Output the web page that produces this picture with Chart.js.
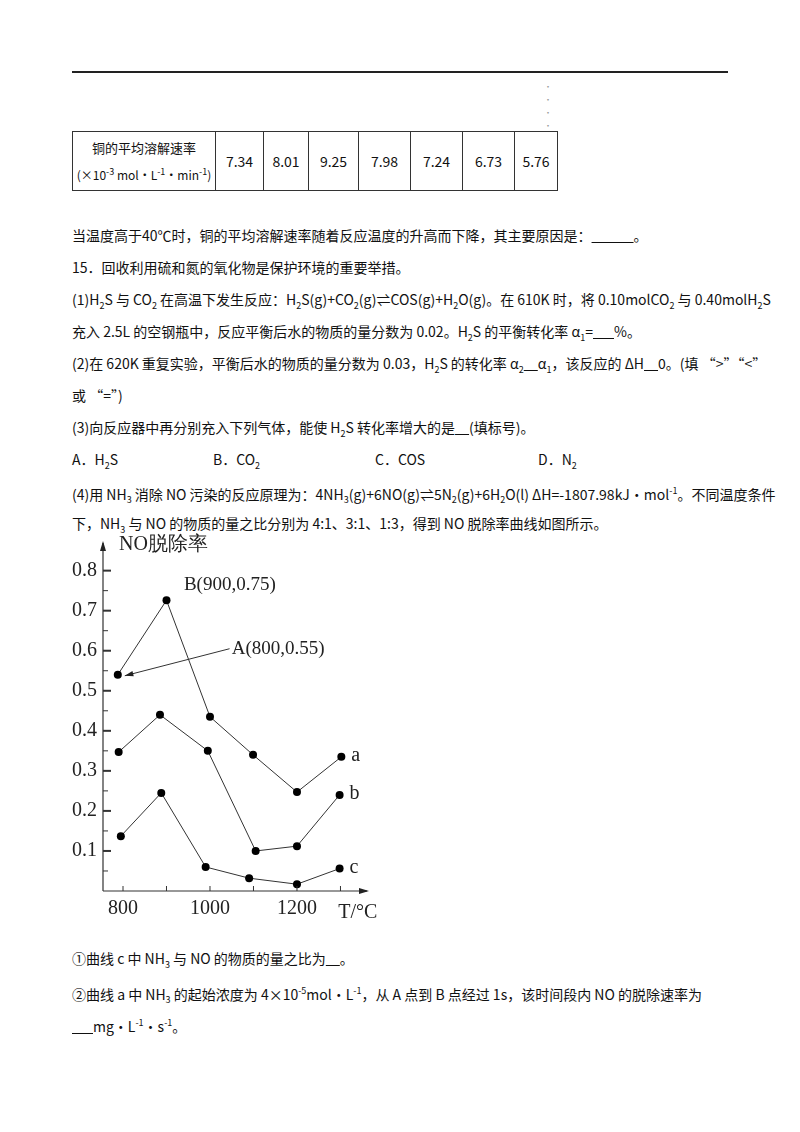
<!DOCTYPE html>
<html><head><meta charset="utf-8">
<script src="https://cdn.jsdelivr.net/npm/chart.js@4/dist/chart.umd.min.js"></script>
<style>
body{margin:0;background:#fff;width:800px;height:1132px;position:relative;font-family:"Noto Sans CJK SC","Noto Sans",sans-serif;color:#111;font-size:14px}
.l{position:absolute;left:72px;white-space:nowrap;line-height:20px}
.j{width:656px;text-align:justify;text-align-last:justify}
sub,sup{font-size:9px}
table{position:absolute;left:72px;top:131px;border-collapse:collapse;font-size:14px}
td{border:1.5px solid #333;height:58px;text-align:center;padding:0}
#wrap{position:absolute;left:60px;top:525px;width:330px;height:400px}
</style></head><body>
<div style="position:absolute;left:72px;top:71px;width:656px;height:2px;background:#222"></div>
<div style="position:absolute;left:544px;top:80px;color:#999;font-size:8px;line-height:13px">·<br>·<br>·<br>·</div>
<table><tr>
<td style="width:142px;font-size:13px;line-height:24px">铜的平均溶解速率<br><span style="font-size:12px">(×10<sup>-3</sup> mol·L<sup>-1</sup>·min<sup>-1</sup>)</span></td>
<td style="width:47px">7.34</td><td style="width:44px">8.01</td><td style="width:49px">9.25</td><td style="width:51px">7.98</td><td style="width:51px">7.24</td><td style="width:51px">6.73</td><td style="width:42px">5.76</td>
</tr></table>
<div class="l" style="top:225px">当温度高于40℃时，铜的平均溶解速率随着反应温度的升高而下降，其主要原因是：<u>&emsp;&emsp;&emsp;</u>。</div>
<div class="l" style="top:257px">15．回收利用硫和氮的氧化物是保护环境的重要举措。</div>
<div class="l j" style="top:289px">(1)H<sub>2</sub>S 与 CO<sub>2</sub> 在高温下发生反应：H<sub>2</sub>S(g)+CO<sub>2</sub>(g)⇌COS(g)+H<sub>2</sub>O(g)。在 610K 时，将 0.10molCO<sub>2</sub> 与 0.40molH<sub>2</sub>S</div>
<div class="l" style="top:321px">充入 2.5L 的空钢瓶中，反应平衡后水的物质的量分数为 0.02。H<sub>2</sub>S 的平衡转化率 α<sub>1</sub>=<u>&emsp;&ensp;</u>%。</div>
<div class="l j" style="top:353px">(2)在 620K 重复实验，平衡后水的物质的量分数为 0.03，H<sub>2</sub>S 的转化率 α<sub>2</sub><u>&emsp;</u>α<sub>1</sub>，该反应的 ΔH<u>&emsp;</u>0。(填 “&gt;”“&lt;”</div>
<div class="l" style="top:385px">或 “=”)</div>
<div class="l" style="top:417px">(3)向反应器中再分别充入下列气体，能使 H<sub>2</sub>S 转化率增大的是<u>&emsp;</u>(填标号)。</div>
<div class="l" style="top:449px">A．H<sub>2</sub>S</div>
<div class="l" style="top:449px;left:213px">B．CO<sub>2</sub></div>
<div class="l" style="top:449px;left:375px">C．COS</div>
<div class="l" style="top:449px;left:538px">D．N<sub>2</sub></div>
<div class="l j" style="top:481px">(4)用 NH<sub>3</sub> 消除 NO 污染的反应原理为：4NH<sub>3</sub>(g)+6NO(g)⇌5N<sub>2</sub>(g)+6H<sub>2</sub>O(l) ΔH=-1807.98kJ·mol<sup>-1</sup>。不同温度条件</div>
<div class="l" style="top:513px">下，NH<sub>3</sub> 与 NO 的物质的量之比分别为 4:1、3:1、1:3，得到 NO 脱除率曲线如图所示。</div>
<div id="wrap"><canvas id="c"></canvas></div>
<div class="l" style="top:948px">①曲线 c 中 NH<sub>3</sub> 与 NO 的物质的量之比为<u>&emsp;</u>。</div>
<div class="l" style="top:981px">②曲线 a 中 NH<sub>3</sub> 的起始浓度为 4×10<sup>-5</sup>mol·L<sup>-1</sup>，从 A 点到 B 点经过 1s，该时间段内 NO 的脱除速率为</div>
<div class="l" style="top:1013px"><u>&emsp;&ensp;</u>mg·L<sup>-1</sup>·s<sup>-1</sup>。</div>
<script>
const temps_a = [788, 900, 1000, 1099, 1200, 1302]
const rate_a = [0.54, 0.726, 0.435, 0.34, 0.247, 0.335]
const temps_b = [790, 885, 995, 1105, 1200, 1298]
const rate_b = [0.347, 0.44, 0.35, 0.1, 0.112, 0.24]
const temps_c = [795, 888, 990, 1090, 1200, 1298]
const rate_c = [0.137, 0.245, 0.06, 0.032, 0.017, 0.056]
const xTicks = [800, 1000, 1200]
const curveNames = ['a', 'b', 'c']

const serif = '"Liberation Serif","DejaVu Serif",serif'
const pts = (xs, ys) => xs.map((x, i) => ({x: x, y: ys[i]}))
const ds = (xs, ys) => ({data: pts(xs, ys), borderColor: '#333', borderWidth: 1,
  pointRadius: 4, pointBackgroundColor: '#000', pointBorderWidth: 0, tension: 0})

const decor = {
  id: 'decor',
  afterDraw(chart) {
    const ctx = chart.ctx, xs = chart.scales.x, ys = chart.scales.y, a = chart.chartArea
    const x0 = a.left, y0 = a.bottom
    ctx.save()
    ctx.strokeStyle = '#333'; ctx.fillStyle = '#222'; ctx.lineWidth = 1.2
    // axes with arrows
    ctx.beginPath(); ctx.moveTo(x0, y0); ctx.lineTo(x0, a.top); ctx.moveTo(x0, y0); ctx.lineTo(a.right, y0); ctx.stroke()
    ctx.beginPath(); ctx.moveTo(x0, a.top - 2); ctx.lineTo(x0 - 3, a.top + 8); ctx.lineTo(x0 + 3, a.top + 8); ctx.fill()
    ctx.beginPath(); ctx.moveTo(a.right + 2, y0); ctx.lineTo(a.right - 8, y0 - 3); ctx.lineTo(a.right - 8, y0 + 3); ctx.fill()
    // ticks
    for (let v = 0.05; v < 0.84; v += 0.05) {
      const p = ys.getPixelForValue(v), major = Math.round(v * 100) % 10 === 0
      ctx.lineWidth = major ? 2 : 1
      ctx.beginPath(); ctx.moveTo(x0, p); ctx.lineTo(x0 + (major ? 8 : 5), p); ctx.stroke()
    }
    ctx.lineWidth = 1
    for (let t = 800; t <= 1300; t += 100) {
      const p = xs.getPixelForValue(t)
      ctx.beginPath(); ctx.moveTo(p, y0); ctx.lineTo(p, y0 - 5); ctx.stroke()
    }
    ctx.font = '20px ' + serif; ctx.textBaseline = 'middle'
    ctx.fillText('NO脱除率', x0 + 16, a.top + 2)
    ctx.fillText('T/°C', xs.getPixelForValue(1295), y0 + 22)
    const last = [[temps_a, rate_a], [temps_b, rate_b], [temps_c, rate_c]]
    last.forEach((s, i) => {
      const n = s[0].length - 1
      ctx.fillText(curveNames[i], xs.getPixelForValue(s[0][n]) + 10, ys.getPixelForValue(s[1][n]) - 1)
    })
    ctx.font = '19px ' + serif
    ctx.fillText('B(900,0.75)', xs.getPixelForValue(940), ys.getPixelForValue(0.765))
    ctx.fillText('A(800,0.55)', xs.getPixelForValue(1050), ys.getPixelForValue(0.605))
    // arrow to A
    const ax = xs.getPixelForValue(temps_a[0]) + 7, ay = ys.getPixelForValue(rate_a[0]) + 1
    const bx = xs.getPixelForValue(1045), by = ys.getPixelForValue(0.605)
    ctx.beginPath(); ctx.moveTo(bx, by); ctx.lineTo(ax, ay); ctx.stroke()
    const ang = Math.atan2(by - ay, bx - ax)
    ctx.beginPath(); ctx.moveTo(ax, ay)
    ctx.lineTo(ax + 9 * Math.cos(ang - 0.3), ay + 9 * Math.sin(ang - 0.3))
    ctx.lineTo(ax + 9 * Math.cos(ang + 0.3), ay + 9 * Math.sin(ang + 0.3)); ctx.fill()
    ctx.restore()
  }
}

new Chart(document.getElementById('c'), {
  type: 'line',
  data: {datasets: [ds(temps_a, rate_a), ds(temps_b, rate_b), ds(temps_c, rate_c)]},
  options: {
    responsive: true, maintainAspectRatio: false, animation: false,
    layout: {padding: {top: 10, right: 23, left: 0, bottom: 0}},
    plugins: {legend: {display: false}, tooltip: {enabled: false}},
    scales: {
      x: {type: 'linear', min: 754, max: 1361,
        afterBuildTicks: s => { s.ticks = xTicks.map(v => ({value: v})) },
        afterFit: s => { s.height = 34 },
        grid: {display: false, drawTicks: false}, border: {display: false},
        ticks: {color: '#222', font: {family: serif, size: 20}, padding: 6, maxRotation: 0, callback: v => String(v)}},
      y: {min: 0, max: 0.869,
        afterBuildTicks: s => { s.ticks = [0.1,0.2,0.3,0.4,0.5,0.6,0.7,0.8].map(v => ({value: v})) },
        afterFit: s => { s.width = 43 },
        grid: {display: false, drawTicks: false}, border: {display: false},
        ticks: {color: '#222', font: {family: serif, size: 20}, padding: 6, callback: v => v.toFixed(1)}}
    }
  },
  plugins: [decor]
})
</script>
</body></html>
